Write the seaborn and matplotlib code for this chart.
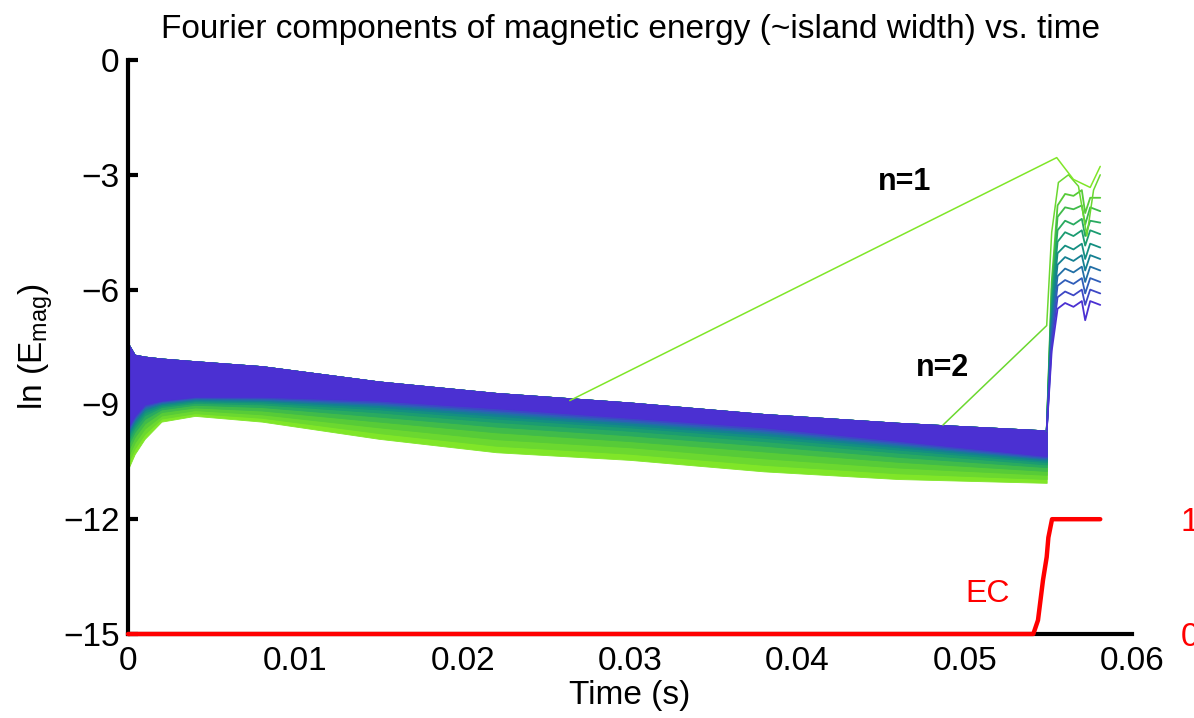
import matplotlib
matplotlib.use('Agg')
import matplotlib.pyplot as plt
import numpy as np
import seaborn as sns
from matplotlib.colors import LinearSegmentedColormap

# --- data ---
# oscillating band before the crash: common top envelope, one lower envelope per mode
t_band = [0.0, 0.0004, 0.001, 0.002, 0.004, 0.008, 0.015, 0.022, 0.030, 0.038, 0.046, 0.0549]
band_top = [-7.4, -7.7, -7.75, -7.8, -7.87, -8.0, -8.4, -8.7, -8.95, -9.25, -9.48, -9.68]
low_n1 = [-10.7, -10.3, -9.9, -9.45, -9.3, -9.45, -9.9, -10.25, -10.45, -10.75, -10.95, -11.05]
low_n2 = [-10.54, -10.15, -9.77, -9.37, -9.23, -9.35, -9.75, -10.08, -10.29, -10.58, -10.8, -10.95]
low_n3 = [-10.37, -10.0, -9.63, -9.29, -9.15, -9.26, -9.6, -9.91, -10.12, -10.41, -10.65, -10.84]
low_n4 = [-10.21, -9.85, -9.5, -9.2, -9.08, -9.16, -9.45, -9.73, -9.96, -10.23, -10.5, -10.74]
low_n5 = [-10.06, -9.72, -9.38, -9.13, -9.01, -9.07, -9.32, -9.58, -9.81, -10.08, -10.37, -10.64]
low_n6 = [-9.94, -9.61, -9.28, -9.07, -8.96, -9.0, -9.21, -9.46, -9.69, -9.96, -10.26, -10.57]
low_n7 = [-9.85, -9.53, -9.21, -9.03, -8.92, -8.95, -9.13, -9.37, -9.6, -9.87, -10.18, -10.51]
low_n8 = [-9.79, -9.47, -9.15, -8.99, -8.89, -8.91, -9.07, -9.3, -9.54, -9.8, -10.12, -10.47]
low_n9 = [-9.73, -9.42, -9.11, -8.97, -8.86, -8.88, -9.02, -9.24, -9.48, -9.74, -10.07, -10.43]
low_n10 = [-9.69, -9.38, -9.07, -8.94, -8.84, -8.85, -8.98, -9.19, -9.44, -9.69, -10.03, -10.41]
low_n11 = [-9.64, -9.34, -9.04, -8.92, -8.82, -8.83, -8.94, -9.15, -9.39, -9.65, -9.99, -10.38]
low_n12 = [-9.6, -9.3, -9.0, -8.9, -8.8, -8.8, -8.9, -9.1, -9.35, -9.6, -9.95, -10.35]

# after the crash (t > 0.0549 s)
t_post = [0.0549, 0.0552, 0.05555, 0.0560, 0.0565, 0.0570, 0.0572, 0.0575, 0.0581]
post_n3 = [-9.7, -5.8, -3.8, -3.5, -3.55, -3.4, -4.0, -3.6, -3.6]
post_n4 = [-9.7, -6.0, -4.1, -3.85, -3.9, -3.8, -4.3, -3.85, -3.95]
post_n5 = [-9.7, -6.2, -4.45, -4.2, -4.3, -4.15, -4.6, -4.2, -4.25]
post_n6 = [-9.7, -6.4, -4.75, -4.5, -4.6, -4.45, -4.85, -4.45, -4.55]
post_n7 = [-9.7, -6.6, -5.05, -4.85, -4.95, -4.8, -5.2, -4.8, -4.9]
post_n8 = [-9.7, -6.8, -5.35, -5.15, -5.25, -5.1, -5.5, -5.1, -5.2]
post_n9 = [-9.7, -7.0, -5.65, -5.45, -5.55, -5.4, -5.8, -5.4, -5.5]
post_n10 = [-9.7, -7.2, -5.9, -5.75, -5.85, -5.7, -6.1, -5.7, -5.8]
post_n11 = [-9.7, -7.4, -6.2, -6.05, -6.15, -6.0, -6.4, -6.0, -6.1]
post_n12 = [-9.7, -7.6, -6.5, -6.35, -6.45, -6.3, -6.8, -6.3, -6.4]

# n=1 and n=2 leave the band early
n1_t = [0.0264, 0.0555, 0.0559, 0.0565, 0.0575, 0.0581]
n1_val = [-8.9, -2.55, -2.78, -3.12, -3.33, -2.78]
n2_t = [0.0487, 0.0549, 0.0552, 0.0556, 0.0562, 0.0568, 0.0573, 0.0577, 0.0581]
n2_val = [-9.54, -6.94, -4.5, -3.2, -3.0, -3.3, -4.6, -3.4, -3.0]

# EC signal (right axis, 0..1)
ec_t = [0.0, 0.0541, 0.05438, 0.05468, 0.0549, 0.0550, 0.05522, 0.0581]
ec_val = [0.0, 0.0, 0.12, 0.47, 0.67, 0.84, 1.0, 1.0]

lows = [low_n1, low_n2, low_n3, low_n4, low_n5, low_n6,
        low_n7, low_n8, low_n9, low_n10, low_n11, low_n12]
posts = {3: post_n3, 4: post_n4, 5: post_n5, 6: post_n6, 7: post_n7,
         8: post_n8, 9: post_n9, 10: post_n10, 11: post_n11, 12: post_n12}

sns.set_style('white')
plt.rcParams['font.family'] = ['Liberation Sans', 'DejaVu Sans']
plt.rcParams['mathtext.fontset'] = 'custom'
plt.rcParams['mathtext.rm'] = 'Liberation Sans'
plt.rcParams['text.color'] = 'black'
plt.rcParams['axes.labelcolor'] = 'black'

cmap = LinearSegmentedColormap.from_list(
    'modes', ['#80e628', '#52c83a', '#20a468', '#0f878a', '#2c62b6', '#4b30d2'])
colors = [cmap(i / 11) for i in range(12)]

fig = plt.figure(figsize=(11.94, 7.18), dpi=100)
ax = fig.add_axes([0.1072, 0.117, 0.8409, 0.7994])

# bands, green (n=1) first so the blue modes sit on top
for i, low in enumerate(lows):
    ax.fill_between(t_band, low, band_top, color=colors[i], linewidth=0.6, zorder=2)

for n in range(3, 13):
    sns.lineplot(x=t_post, y=posts[n], color=colors[n - 1], linewidth=1.3,
                 sort=False, estimator=None, ax=ax, zorder=3)
sns.lineplot(x=n2_t, y=n2_val, color=colors[1], linewidth=1.1,
             sort=False, estimator=None, ax=ax, zorder=4)
sns.lineplot(x=n1_t, y=n1_val, color=colors[0], linewidth=1.1,
             sort=False, estimator=None, ax=ax, zorder=4)

ax.text(0.04638, -3.2, 'n=1', fontsize=22, fontweight='bold', ha='center', va='center')
ax.text(0.0487, -8.06, 'n=2', fontsize=22, fontweight='bold', ha='center', va='center')

ax.set_xlim(0, 0.06)
ax.set_ylim(-15, 0)
ax.set_xticks([0, 0.01, 0.02, 0.03, 0.04, 0.05, 0.06])
ax.set_xticklabels(['0', '0.01', '0.02', '0.03', '0.04', '0.05', '0.06'])
ax.set_yticks([-15, -12, -9, -6, -3, 0])
ax.set_yticklabels(['\u221215', '\u221212', '\u22129', '\u22126', '\u22123', '0'])
ax.tick_params(axis='both', direction='in', length=7, width=3, labelsize=24,
               colors='black')
ax.tick_params(axis='y', pad=6)
ax.tick_params(axis='x', pad=9)
for s in ['top', 'right']:
    ax.spines[s].set_visible(False)
for s in ['left', 'bottom']:
    ax.spines[s].set_linewidth(3)
    ax.spines[s].set_color('black')

ax.set_title('Fourier components of magnetic energy (~island width) vs. time',
             fontsize=24, pad=16)
ax.set_xlabel('Time (s)', fontsize=24)
ax.xaxis.set_label_coords(0.5, -0.08)
ax.set_ylabel('ln (E$_{\\mathrm{mag}}$)', fontsize=24)
ax.yaxis.set_label_coords(-0.073, 0.5)

# EC on a second y axis
ax2 = ax.twinx()
ax2.set_ylim(0, 5)
ax2.set_yticks([0, 1])
ax2.set_yticklabels(['0', '1'])
ax2.tick_params(axis='y', length=0, labelcolor='red', labelsize=24, pad=35)
for s in ax2.spines.values():
    s.set_visible(False)
ax2.patch.set_visible(False)
sns.lineplot(x=ec_t, y=ec_val, color='red', linewidth=3.2, sort=False,
             estimator=None, ax=ax2, clip_on=False)
ax2.set_ylabel('')
ax2.text(0.0514, 0.35, 'EC', color='red', fontsize=23, ha='center', va='center')

fig.savefig('out.png', dpi=100)
